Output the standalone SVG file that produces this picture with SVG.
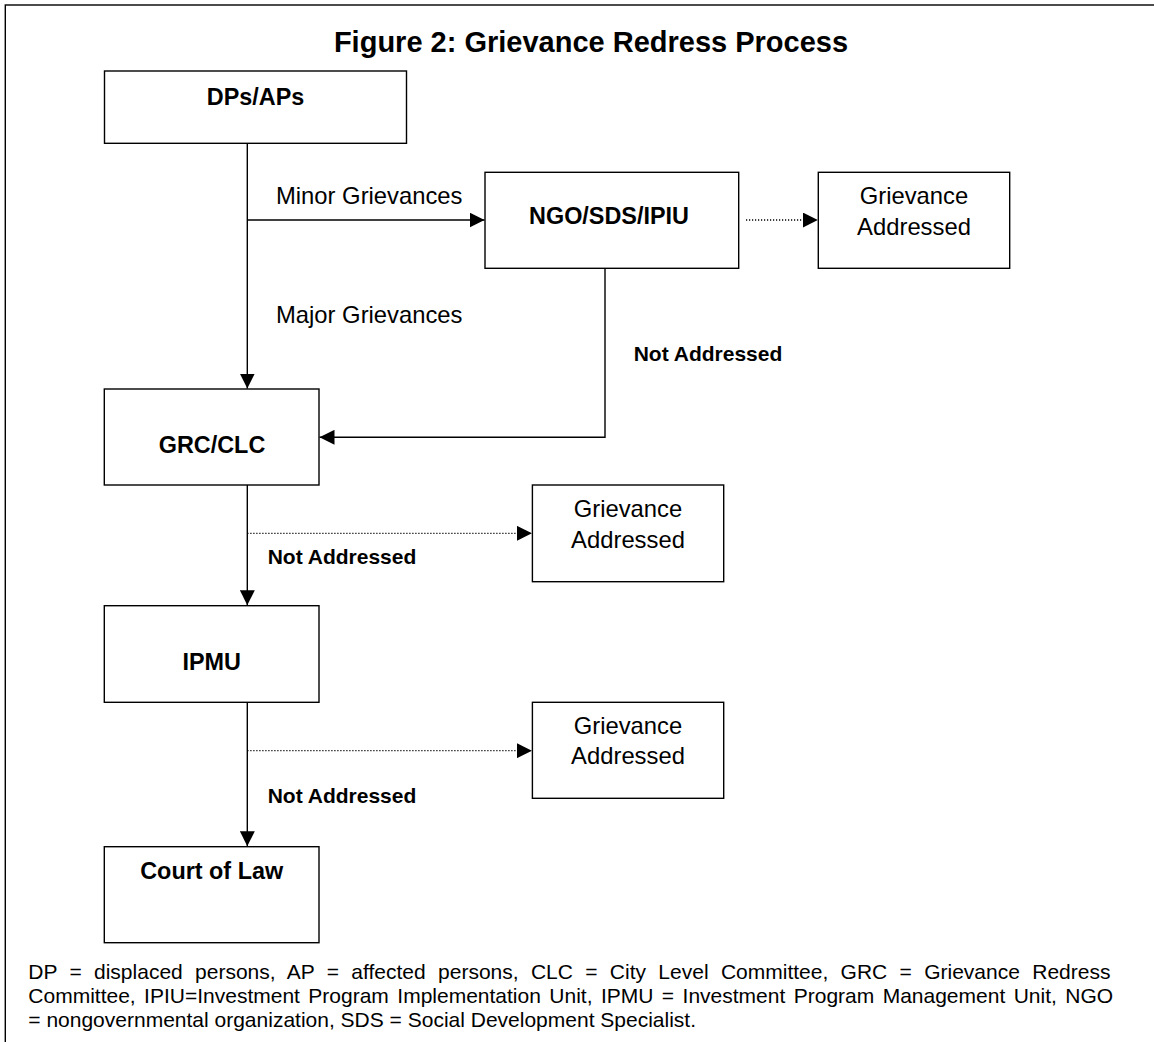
<svg xmlns="http://www.w3.org/2000/svg" width="1154" height="1042" viewBox="0 0 1154 1042">
<style>
.box{fill:#fff;stroke:#000;stroke-width:1.4}
.ln{fill:none;stroke:#000;stroke-width:1.4}
.dot{fill:none;stroke:#000;stroke-width:1.3;stroke-dasharray:1.2 1.8}
.b{font-family:"Liberation Sans",Arial,sans-serif;font-weight:bold;font-size:23.4px;text-anchor:middle;fill:#000}
.r{font-family:"Liberation Sans",Arial,sans-serif;font-size:23.8px;fill:#000}
.rc{text-anchor:middle}
.na{font-family:"Liberation Sans",Arial,sans-serif;font-weight:bold;font-size:21px;fill:#000}
.ft{font-family:"Liberation Sans",Arial,sans-serif;font-size:21px;fill:#000}
</style>
<defs>
<marker id="ah" markerUnits="userSpaceOnUse" markerWidth="15" markerHeight="15" refX="15" refY="7.5" orient="auto" viewBox="0 0 15 15">
<path d="M0,0 L15,7.5 L0,15 z" fill="#000"/>
</marker>
</defs>
<rect x="0" y="0" width="1154" height="1042" fill="#fff"/>
<rect id="frame" x="5.3" y="5" width="1170" height="1060" fill="none" stroke="#000" stroke-width="1.4"/>
<text x="591" y="52" style="font-family:'Liberation Sans',Arial,sans-serif;font-weight:bold;font-size:29px;text-anchor:middle">Figure 2: Grievance Redress Process</text>

<g id="connectors">
<path class="ln" d="M247.3,143.3 V388.5" marker-end="url(#ah)"/>
<path class="ln" d="M247.3,220 H484.5" marker-end="url(#ah)"/>
<path class="ln" d="M605,268.3 V437.3 H319.5" marker-end="url(#ah)"/>
<path class="dot" d="M746,220 H817.8" marker-end="url(#ah)"/>
<path class="ln" d="M247.3,485 V605.2" marker-end="url(#ah)"/>
<path class="dot" d="M247.3,533.3 H531.9" marker-end="url(#ah)"/>
<path class="ln" d="M247.3,702.3 V846.2" marker-end="url(#ah)"/>
<path class="dot" d="M247.3,750.7 H531.9" marker-end="url(#ah)"/>
<text class="r" x="276" y="204">Minor Grievances</text>
<text class="r" x="276" y="323.3">Major Grievances</text>
<text class="na" x="633.7" y="360.7">Not Addressed</text>
<text class="na" x="267.7" y="564">Not Addressed</text>
<text class="na" x="267.7" y="803.3">Not Addressed</text>
</g>

<g id="dps">
<rect class="box" x="104.5" y="71" width="302" height="72.3"/>
<text class="b" x="255.5" y="105.3">DPs/APs</text>
</g>
<g id="ngo">
<rect class="box" x="485" y="172.3" width="253.7" height="96"/>
<text class="b" x="609" y="224">NGO/SDS/IPIU</text>
</g>
<g id="addressed1">
<rect class="box" x="818.3" y="172.3" width="191.4" height="96"/>
<text class="r rc" x="914" y="204">Grievance</text>
<text class="r rc" x="914" y="235">Addressed</text>
</g>
<g id="grc">
<rect class="box" x="104.3" y="389" width="214.7" height="96"/>
<text class="b" x="212" y="452.7">GRC/CLC</text>
</g>
<g id="addressed2">
<rect class="box" x="532.4" y="485" width="191.3" height="96.7"/>
<text class="r rc" x="628" y="517.3">Grievance</text>
<text class="r rc" x="628" y="548.3">Addressed</text>
</g>
<g id="ipmu">
<rect class="box" x="104.3" y="605.7" width="214.7" height="96.6"/>
<text class="b" x="211.7" y="670">IPMU</text>
</g>
<g id="addressed3">
<rect class="box" x="532.4" y="702.3" width="191.3" height="96"/>
<text class="r rc" x="628" y="734">Grievance</text>
<text class="r rc" x="628" y="764">Addressed</text>
</g>
<g id="court">
<rect class="box" x="104.3" y="846.7" width="214.7" height="96"/>
<text class="b" x="211.7" y="879.3">Court of Law</text>
</g>

<g id="footnote">
<text class="ft" x="28.3" y="979.3" style="word-spacing:6.5px">DP = displaced persons, AP = affected persons, CLC = City Level Committee, GRC = Grievance Redress</text>
<text class="ft" x="28.3" y="1003.3" style="word-spacing:2.6px">Committee, IPIU=Investment Program Implementation Unit, IPMU = Investment Program Management Unit, NGO</text>
<text class="ft" x="28.3" y="1027.3">= nongovernmental organization, SDS = Social Development Specialist.</text>
</g>
</svg>
